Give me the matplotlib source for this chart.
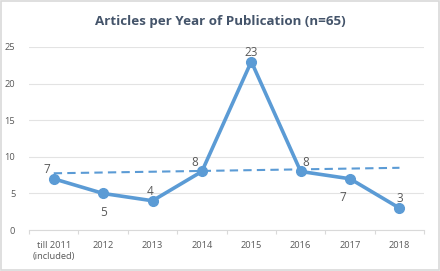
import matplotlib
matplotlib.use("Agg")
import matplotlib.pyplot as plt
import numpy as np

categories = ["till 2011\n(included)", "2012", "2013", "2014", "2015", "2016", "2017", "2018"]
articles = [7, 5, 4, 8, 23, 8, 7, 3]
yticks = [0, 5, 10, 15, 20, 25]

# label offsets (points), style only
label_offsets = [(-5, 2), (0, -9), (-2, 2), (-5, 2), (0, 2), (4, 2), (-5, -9), (0, 2)]

plt.rcParams['font.family'] = ['Open Sans', 'DejaVu Sans']

fig = plt.figure(figsize=(4.4, 2.71), dpi=100)
fig.patch.set_facecolor("white")
ax = fig.add_axes([0.066, 0.151, 0.898, 0.676])

x = np.arange(len(categories))
blue = "#5B9BD5"
ax.plot(x, articles, color=blue, lw=2.6, marker="o", ms=7, zorder=3)

# linear trend
coef = np.polyfit(x, articles, 1)
ax.plot(x, np.polyval(coef, x), color=blue, lw=1.5, ls=(0, (4, 2.5)), zorder=2)

for xi, v, off in zip(x, articles, label_offsets):
    ax.annotate(str(v), (xi, v), xytext=off, textcoords="offset points",
                ha="center", va="bottom" if off[1] > 0 else "top",
                fontsize=8.5, color="#595959")

ax.set_xlim(-0.5, len(categories) - 0.5)
ax.set_ylim(0, 25)
ax.set_yticks(yticks)
ax.grid(axis="y", color="#E3E3E3", lw=0.8)
ax.set_axisbelow(True)
for s in ["top", "right", "left"]:
    ax.spines[s].set_visible(False)
ax.spines["bottom"].set_color("#D9D9D9")
ax.spines["bottom"].set_linewidth(0.8)

ax.set_xticks(x)
ax.set_xticklabels(categories, fontsize=6.7, color="#595959", linespacing=1.3)
ax.set_xticks(np.arange(-0.5, len(categories)), minor=True)
ax.tick_params(axis="x", which="major", length=0, pad=8)
ax.tick_params(axis="x", which="minor", length=3, color="#D9D9D9", width=0.8)
ax.tick_params(axis="y", length=0, labelsize=6.7, labelcolor="#595959", pad=10)

fig.text(0.5, 0.92, "Articles per Year of Publication (n=65)", ha="center", va="center",
         fontsize=9.6, fontweight="bold", color="#44546A")

border = plt.Rectangle((0.002, 0.003), 0.995, 0.993, transform=fig.transFigure,
                       fill=False, edgecolor="#D9D9D9", lw=1.2)
fig.patches.append(border)

fig.savefig("out.png", dpi=100)
